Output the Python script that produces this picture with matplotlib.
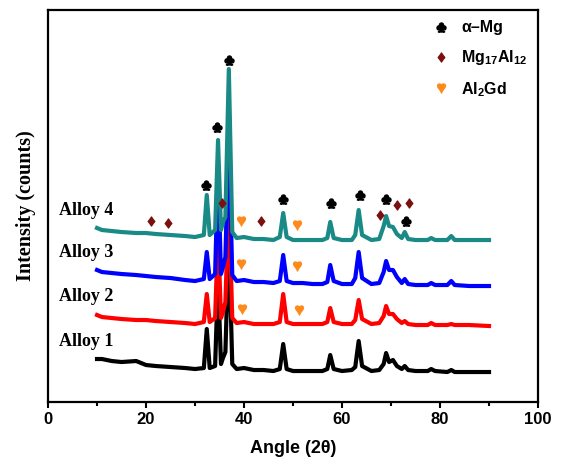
import matplotlib
matplotlib.use('Agg')
import matplotlib.pyplot as plt
from matplotlib.lines import Line2D
from matplotlib.ticker import MultipleLocator

plt.rcParams['mathtext.fontset'] = 'custom'
plt.rcParams['mathtext.rm'] = 'Liberation Sans:bold'
plt.rcParams['mathtext.bf'] = 'Liberation Sans:bold'
plt.rcParams['mathtext.it'] = 'Liberation Sans:bold'

# diffraction angle samples (2theta, deg)
angle = [10, 11, 13, 15, 18, 20, 22, 25, 28, 30, 31.8, 32.4, 33.0, 34.1, 34.7, 35.3,
         35.7, 36.2, 36.9, 37.6, 38.5, 40, 42, 44, 46, 47.3, 48.0, 48.7, 50, 52, 54,
         56, 57.0, 57.6, 58.3, 60, 62, 62.7, 63.4, 64.1, 66, 67.6, 68.5, 69.0, 69.6,
         70.4, 71.2, 72.2, 72.8, 73.5, 75, 77.5, 78.2, 79, 81.5, 82.3, 83, 86, 90]

# intensities (arbitrary units, curves already stacked)
alloy1 = [43, 43, 41, 40, 41, 37, 36, 35, 34, 33, 34, 73, 34, 36, 125, 38,
          44, 50, 165, 38, 33, 34, 32, 32, 31, 33, 58, 33, 31, 31, 31,
          31, 33, 47, 33, 31, 32, 35, 61, 36, 31, 32, 38, 49, 40,
          42, 36, 33, 36, 32, 31, 31, 33, 31, 30, 32, 30, 30, 30]
alloy2 = [87, 85, 84, 83, 82, 82, 81, 80, 79, 78, 80, 108, 80, 84, 170, 84,
          90, 100, 205, 84, 79, 80, 78, 78, 78, 80, 108, 80, 78, 78, 78,
          78, 80, 94, 80, 78, 78, 82, 102, 83, 78, 79, 86, 96, 88,
          88, 83, 79, 81, 78, 77, 77, 79, 77, 77, 78, 77, 77, 76]
alloy3 = [132, 130, 129, 128, 127, 126, 125, 124, 122, 121, 123, 150, 123, 128, 235, 128,
          135, 145, 270, 127, 121, 122, 120, 120, 119, 121, 147, 121, 119, 119, 118,
          118, 120, 137, 121, 118, 118, 124, 150, 124, 118, 119, 130, 141, 132,
          132, 125, 119, 123, 118, 117, 117, 119, 117, 117, 121, 117, 116, 116]
alloy4 = [174, 172, 171, 170, 169, 169, 168, 167, 166, 165, 167, 207, 167, 172, 262, 172,
          180, 185, 333, 170, 164, 165, 163, 163, 162, 165, 189, 165, 162, 162, 162,
          162, 164, 180, 164, 162, 162, 167, 192, 167, 162, 163, 176, 186, 176,
          175, 168, 164, 170, 163, 162, 162, 164, 162, 162, 166, 162, 162, 162]

series = [alloy1, alloy2, alloy3, alloy4]
names = ['Alloy 1', 'Alloy 2', 'Alloy 3', 'Alloy 4']
colors = ['#000000', '#ff0000', '#0000ff', '#1a8a86']
name_y = [61, 106, 150, 192]

# phase markers
mg_x = [32.3, 34.5, 37.0, 48.0, 57.7, 63.6, 68.9, 73.0]
mg_y = [217, 275, 342, 203, 199, 207, 203, 181]
al_x = [21.0, 24.4, 35.5, 43.5, 67.8, 71.2, 73.6]
al_y = [181, 179, 199, 181, 187, 197, 199]
gd_x = [39.4, 50.8, 39.4, 50.8, 39.6, 51.3]
gd_y = [181, 177, 138, 136, 93, 92]

fig = plt.figure(figsize=(5.61, 4.66), dpi=100)
ax = fig.add_axes([0.0856, 0.1373, 0.8734, 0.8412])

for ys, c in zip(series, colors):
    ax.plot(angle, ys, color=c, lw=3.0, solid_joinstyle='round')

for nm, yy in zip(names, name_y):
    ax.text(2.2, yy, nm, fontsize=13, fontweight='bold', family='Liberation Serif',
            ha='left', va='center')

ms = 6.5
ax.plot(mg_x, mg_y, ls='none', marker='$♣$', ms=ms, color='black')
ax.plot(al_x, al_y, ls='none', marker='$♦$', ms=ms, color='#7a1010')
ax.plot(gd_x, gd_y, ls='none', marker='$♥$', ms=ms, color='#ff8a1c')

handles = [
    Line2D([], [], ls='none', marker='$♣$', ms=ms, color='black'),
    Line2D([], [], ls='none', marker='$♦$', ms=ms, color='#7a1010'),
    Line2D([], [], ls='none', marker='$♥$', ms=ms, color='#ff8a1c'),
]
labels = [r'α–Mg', r'Mg$_{17}$Al$_{12}$', r'Al$_{2}$Gd']
leg = ax.legend(handles, labels, loc='upper right', frameon=False,
                handlelength=1.0, handletextpad=0.8, labelspacing=0.8,
                borderaxespad=0.25,
                prop={'family': 'Liberation Sans', 'weight': 'bold', 'size': 11.5})

ax.set_xlim(0, 100)
ax.set_ylim(0, 392)
ax.xaxis.set_major_locator(MultipleLocator(20))
ax.xaxis.set_minor_locator(MultipleLocator(10))
ax.tick_params(axis='x', which='major', direction='out', length=4, width=1.5)
ax.tick_params(axis='x', which='minor', direction='out', length=3, width=1.5)
ax.set_yticks([])
for lab in ax.get_xticklabels():
    lab.set_fontweight('bold')
    lab.set_family('Liberation Sans')
    lab.set_fontsize(12)
for sp in ax.spines.values():
    sp.set_linewidth(1.6)

ax.set_xlabel('Angle (2θ)', fontsize=13, fontweight='bold', family='Liberation Sans', labelpad=9)
ax.set_ylabel('Intensity (counts)', fontsize=14.5, fontweight='bold', family='Liberation Serif', labelpad=9)

plt.savefig('out.png', dpi=100)
